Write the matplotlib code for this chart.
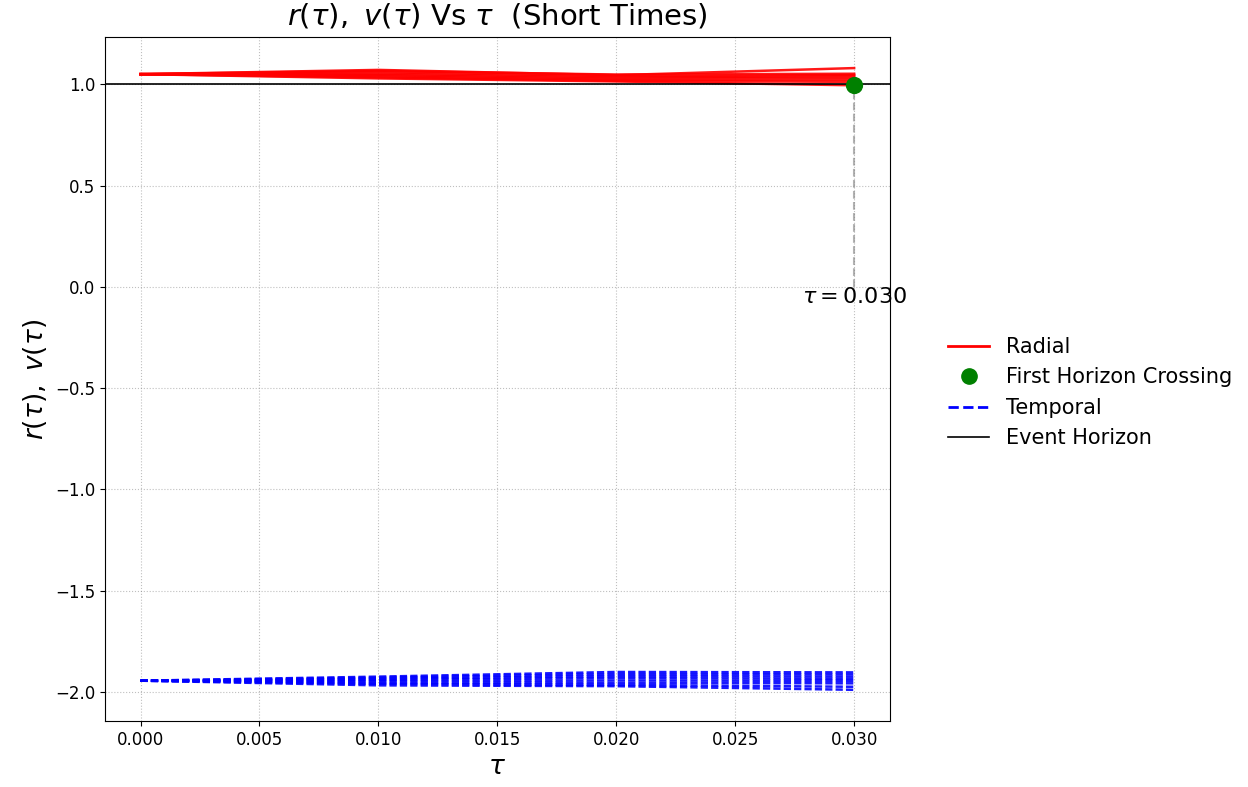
import numpy as np
import matplotlib
matplotlib.use("Agg")
import matplotlib.pyplot as plt
from matplotlib.lines import Line2D

# proper time samples
tau = [0.0, 0.01, 0.02, 0.03]

# radial trajectories r(tau)
radial = [
    [1.05, 1.071, 1.045, 1.080],
    [1.05, 1.066, 1.048, 1.052],
    [1.05, 1.060, 1.040, 1.046],
    [1.05, 1.052, 1.034, 1.040],
    [1.05, 1.046, 1.028, 1.032],
    [1.05, 1.040, 1.022, 1.022],
    [1.05, 1.034, 1.017, 1.012],
    [1.05, 1.029, 1.014, 0.995],
]

# temporal trajectories v(tau)
temporal = [
    [-1.945, -1.925, -1.902, -1.904],
    [-1.945, -1.930, -1.912, -1.914],
    [-1.945, -1.936, -1.922, -1.925],
    [-1.945, -1.941, -1.932, -1.936],
    [-1.945, -1.948, -1.944, -1.946],
    [-1.945, -1.955, -1.956, -1.958],
    [-1.945, -1.961, -1.966, -1.975],
    [-1.945, -1.968, -1.972, -1.990],
]

tau_cross = 0.030
r_cross = 0.995

fig = plt.figure(figsize=(12.48, 7.87), dpi=100)
ax = fig.add_axes([0.084, 0.084, 0.629, 0.869])

for r in radial:
    ax.plot(tau, r, color='red', lw=1.8, alpha=0.9)
for v in temporal:
    ax.plot(tau, v, color='blue', lw=1.8, ls=(0, (2.9, 1.25)), alpha=0.9)

ax.axhline(1.0, color='black', lw=1.2)
ax.scatter([tau_cross], [r_cross], color='green', s=130, zorder=5)
ax.vlines(tau_cross, 0, r_cross, colors='gray', linestyles='--', alpha=0.6)
ax.text(tau_cross, 0, r'$\tau = 0.030$', ha='center', va='top', fontsize=16)

ax.set_title(r'$r(\tau),\ v(\tau)$ Vs $\tau$  (Short Times)', fontsize=21, pad=9)
ax.set_xlabel(r'$\tau$', fontsize=19)
ax.set_ylabel(r'$r(\tau),\ v(\tau)$', fontsize=19)
ax.tick_params(labelsize=12)
ax.grid(True, ls=':', color='gray', alpha=0.5)

handles = [
    Line2D([], [], color='red', lw=2),
    Line2D([], [], marker='o', color='green', ls='none', markersize=11),
    Line2D([], [], color='blue', lw=2, ls='--'),
    Line2D([], [], color='black', lw=1.2),
]
labels = ['Radial', 'First Horizon Crossing', 'Temporal', 'Event Horizon']
ax.legend(handles, labels, loc='center left', bbox_to_anchor=(1.05, 0.48),
          frameon=False, fontsize=15)

fig.savefig('out.png')
